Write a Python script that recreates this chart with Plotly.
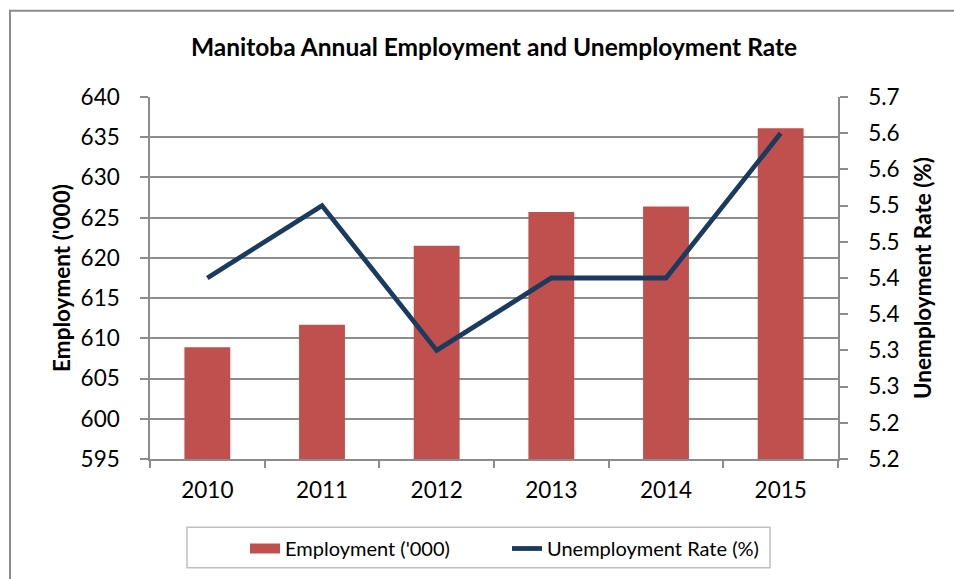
import plotly.graph_objects as go

years = ["2010", "2011", "2012", "2013", "2014", "2015"]
employment = [608.9, 611.7, 621.5, 625.7, 626.4, 636.1]
unemp_rate = [5.40, 5.50, 5.30, 5.40, 5.40, 5.60]

left_ticks = [595, 600, 605, 610, 615, 620, 625, 630, 635, 640]
right_tickvals = [5.15, 5.20, 5.25, 5.30, 5.35, 5.40, 5.45, 5.50, 5.55, 5.60, 5.65]
right_ticktext = ["5.2", "5.2", "5.3", "5.3", "5.4", "5.4", "5.5", "5.5", "5.6", "5.6", "5.7"]

FONT = "Lato, Carlito, Calibri, sans-serif"
GRID = "#8c8c8c"
BAR_COLOR = "#C0504D"
LINE_COLOR = "#1A3A60"

fig = go.Figure()
fig.add_trace(go.Bar(
    x=years, y=employment, name="Employment ('000)",
    marker=dict(color=BAR_COLOR, line=dict(width=0)),
    yaxis="y", showlegend=False,
))
# legend proxy for the bar series (wide rectangular swatch)
fig.add_trace(go.Scatter(
    x=[years[0]], y=[None], name="Employment ('000)",
    mode="lines", line=dict(color=BAR_COLOR, width=12),
    yaxis="y", showlegend=True, hoverinfo="skip",
))
fig.add_trace(go.Scatter(
    x=years, y=unemp_rate, name="Unemployment Rate (%)",
    mode="lines", line=dict(color=LINE_COLOR, width=4.8),
    yaxis="y2",
))

L, R, T, B = 150, 116, 97, 119
W, H = 954, 579
pw, ph = W - L - R, H - T - B

def px_x(p):
    return (p - L) / pw

def px_y(p):
    return (H - B - p) / ph

fig.update_layout(
    width=W, height=H,
    margin=dict(l=L, r=R, t=T, b=B),
    paper_bgcolor="white", plot_bgcolor="white",
    font=dict(family=FONT, size=22, color="black"),
    bargap=0.6,
    title=dict(text="<b>Manitoba Annual Employment and Unemployment Rate</b>",
               x=px_x(494), xref="paper", xanchor="center",
               y=1 - 47 / H, yanchor="middle", font=dict(size=24.5)),
    xaxis=dict(
        type="category", showline=True, linecolor=GRID, linewidth=1.5,
        ticks="outside", tickson="boundaries", ticklen=7, tickcolor=GRID, tickwidth=1.5,
        showgrid=False, tickfont=dict(size=22.5), ticklabelstandoff=10,
    ),
    yaxis=dict(
        range=[595, 640], tickvals=left_ticks,
        showline=True, linecolor=GRID, linewidth=1.5,
        ticks="outside", ticklen=8, tickcolor=GRID, tickwidth=1.5,
        showgrid=True, gridcolor=GRID, gridwidth=1.5,
        tickfont=dict(size=22.5), ticklabelstandoff=16,
        title=dict(text="<b>Employment ('000)</b>", font=dict(size=22.5), standoff=4),
        zeroline=False,
    ),
    yaxis2=dict(
        range=[5.15, 5.65], overlaying="y", side="right",
        tickvals=right_tickvals, ticktext=right_ticktext,
        showline=True, linecolor=GRID, linewidth=1.5,
        ticks="outside", ticklen=8, tickcolor=GRID, tickwidth=1.5,
        showgrid=False, zeroline=False,
        tickfont=dict(size=22.5), ticklabelstandoff=16,
        title=dict(text="<b>Unemployment Rate (%)</b>", font=dict(size=22.5), standoff=17),
    ),
    legend=dict(
        orientation="h", x=px_x(245), xanchor="left",
        y=px_y(548.5), yanchor="middle",
        borderwidth=0, bgcolor="rgba(0,0,0,0)",
        font=dict(size=20), itemwidth=30,
        traceorder="normal", entrywidth=217, entrywidthmode="pixels",
    ),
    showlegend=True,
)

# outer chart border
fig.add_shape(type="rect", xref="paper", yref="paper",
              x0=px_x(10), x1=px_x(1000), y0=px_y(1000), y1=px_y(10.5),
              line=dict(color="#8c8c8c", width=2), fillcolor="rgba(0,0,0,0)",
              layer="below")
# legend box
fig.add_shape(type="rect", xref="paper", yref="paper",
              x0=px_x(187), x1=px_x(770), y0=px_y(569), y1=px_y(528.5),
              line=dict(color="#bfbfbf", width=1.5), fillcolor="rgba(0,0,0,0)",
              layer="below")

fig.write_html("out.html")
